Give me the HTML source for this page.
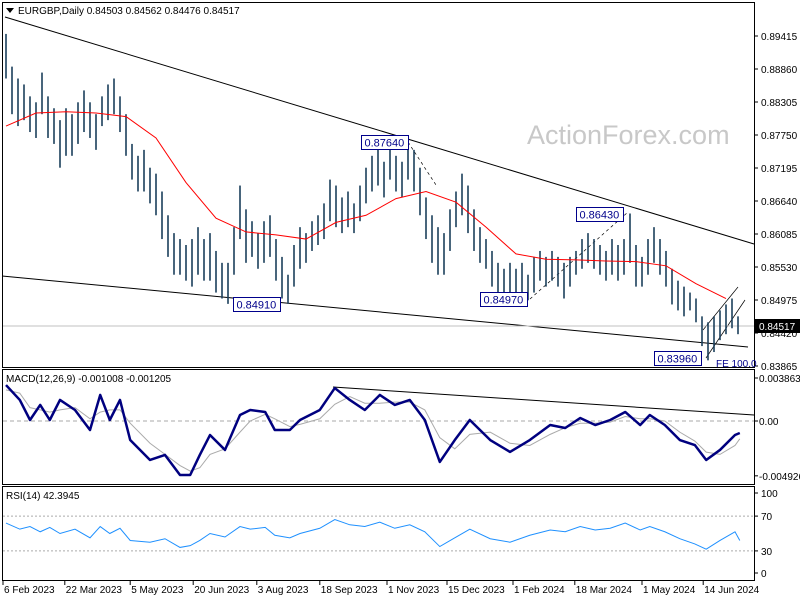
<!DOCTYPE html>
<html><head><meta charset="utf-8"><style>
body{margin:0;background:#fff;font-family:"Liberation Sans",sans-serif}
svg{display:block}
text{font-family:"Liberation Sans",sans-serif;font-size:10px}
</style></head><body>
<svg id="c" width="800" height="600">
<rect x="0" y="0" width="800" height="600" fill="#fff"/>
<text x="527" y="144" fill="#c8c8c8" style="font-size:27px">ActionForex.com</text>
<g id="main"></g>
</svg>
<script>
const highs=[.8945,.8890,.8870,.8860,.8840,.8830,.8880,.8840,.8820,.8800,.8820,.8810,.8830,.8850,.8830,.8810,.8840,.8860,.8870,.8840,.8810,.8760,.8740,.8750,.8720,.8710,.8680,.8640,.8610,.8600,.8590,.8600,.8620,.8600,.8610,.8580,.8560,.8560,.8620,.8690,.8650,.8630,.8610,.8630,.8640,.8600,.8570,.8540,.8590,.8620,.8610,.8630,.8640,.8660,.8700,.8690,.8670,.8680,.8660,.8690,.8720,.8740,.8750,.8730,.8760,.8740,.8730,.8764,.8750,.8720,.8670,.8640,.8620,.8610,.8650,.8680,.8710,.8690,.8650,.8620,.8600,.8580,.8560,.8550,.8560,.8550,.8560,.8540,.8570,.8580,.8570,.8580,.8570,.8560,.8570,.8580,.8600,.8610,.8600,.8590,.8580,.8600,.8590,.8600,.8643,.8590,.8570,.8600,.8620,.8600,.8580,.8550,.8530,.8520,.8510,.8500,.8470,.8460,.8470,.8480,.8490,.8500,.8470];
const lows=[.8870,.8810,.8790,.8800,.8780,.8770,.8810,.8770,.8760,.8720,.8740,.8740,.8760,.8780,.8770,.8750,.8790,.8800,.8810,.8780,.8740,.8700,.8680,.8680,.8660,.8640,.8600,.8570,.8540,.8540,.8530,.8520,.8540,.8530,.8530,.8510,.8500,.8491,.8540,.8600,.8560,.8570,.8550,.8560,.8570,.8530,.8500,.8491,.8520,.8550,.8560,.8580,.8590,.8600,.8630,.8620,.8610,.8620,.8610,.8630,.8660,.8680,.8690,.8670,.8700,.8680,.8670,.8700,.8680,.8640,.8600,.8560,.8540,.8540,.8580,.8620,.8640,.8610,.8580,.8560,.8550,.8520,.8510,.8500,.8500,.8500,.8510,.8497,.8510,.8530,.8520,.8530,.8520,.8500,.8520,.8540,.8550,.8560,.8550,.8540,.8530,.8540,.8530,.8540,.8560,.8520,.8520,.8540,.8560,.8540,.8520,.8490,.8480,.8470,.8480,.8460,.8420,.8396,.8410,.8430,.8440,.8450,.8440];
const maDay=[0,5,10,15,20,25,30,35,40,45,50,55,60,65,70,75,80,85,90,95,100,105,110,115,120];
const maVals=[.8790,.8812,.8814,.8812,.8806,.8770,.8695,.8635,.8612,.8607,.8600,.8628,.8640,.8668,.8680,.8662,.8620,.8575,.8566,.8565,.8563,.8562,.8555,.8525,.8500];
const macdDay=[0,2.3,4,5.7,7.3,9,11.5,14,15.7,17.3,19,20.7,24,26.5,29,30.7,32.3,34,36.5,39,40.7,43.2,44.8,47.3,49,52.3,54.8,57.3,59.8,62.3,64.8,67.3,69.8,72.3,74.8,77.3,80.7,84,87.3,90.7,93.2,95.7,98.2,100.7,103.2,105.7,107.3,109.8,112.3,114.8,116.7,119,121.5,122.3];
const macdVals=[.00323,.00189,.00009,.00144,.00009,.00189,.00099,-.00081,.00234,.00009,.00189,-.00171,-.00350,-.00305,-.00485,-.00485,-.00305,-.00126,-.00260,.00054,.00099,.00081,-.00081,-.00081,.00009,.00099,.00296,.00189,.00099,.00234,.00144,.00189,.00009,-.00368,-.00171,.00009,-.00171,-.00278,-.00171,-.00036,-.00063,.00027,-.00036,.00009,.00081,-.00036,.00054,-.00036,-.00171,-.00216,-.00350,-.00260,-.00126,-.00108];
const signalVals=[.0028,.0025,.0012,.0010,.0008,.0010,.0012,.0002,.0008,.0010,.0010,-.0002,-.0020,-.0030,-.0040,-.0045,-.0042,-.0030,-.0025,-.0010,.0000,.0006,.0002,-.0005,-.0003,.0002,.0015,.0022,.0016,.0016,.0017,.0017,.0010,-.0015,-.0025,-.0012,-.0010,-.0020,-.0022,-.0012,-.0006,-.0002,-.0002,-.0001,.0004,.0002,.0002,.0000,-.0010,-.0018,-.0028,-.0030,-.0022,-.0016];
const rsiVals=[62,55,58,52,57,50,55,45,58,50,56,42,40,44,34,36,42,50,46,58,55,57,48,45,50,56,66,60,58,63,56,60,52,35,45,55,44,40,48,54,52,58,54,56,62,54,58,52,44,38,32,42,52,42];
const priceTicks=[0.89415,0.88860,0.88305,0.87750,0.87195,0.86640,0.86085,0.85530,0.84975,0.84420,0.83865];
const dateLabels=["6 Feb 2023","22 Mar 2023","5 May 2023","20 Jun 2023","3 Aug 2023","18 Sep 2023","1 Nov 2023","15 Dec 2023","1 Feb 2024","18 Mar 2024","1 May 2024","14 Jun 2024"];
const dateDays=[-0.5,9.8,20.7,31.2,41.8,52.3,63.5,73.5,84.5,94.8,106,116.2];

const NS="http://www.w3.org/2000/svg";
const g=document.getElementById('main');
function mk(t,a,p){const e=document.createElementNS(NS,t);for(const k in a)e.setAttribute(k,a[k]);(p||g).appendChild(e);return e;}
const X=d=>6+d*6;
const Y=p=>36+(0.89415-p)/0.00555*33;
const YM=v=>421-v*11131;
const YR=v=>577-v*0.87;

let e;
e=mk('rect',{x:2.5,y:2.5,width:752,height:365,fill:'none',stroke:'#000'});

e=mk('rect',{x:2.5,y:369.5,width:752,height:115,fill:'none',stroke:'#000'});

e=mk('rect',{x:2.5,y:486.5,width:752,height:94,fill:'none',stroke:'#000'});


priceTicks.forEach(p=>{const y=Y(p);
 mk('line',{x1:754,x2:758,y1:y,y2:y,stroke:'#000'});
 e=mk('text',{x:761,y:y+4,fill:'#000'});e.textContent=p.toFixed(5);
 });

e=mk('line',{x1:5,y1:17,x2:754,y2:244,stroke:'#000','stroke-width':1});

e=mk('line',{x1:2,y1:276,x2:748,y2:347,stroke:'#000','stroke-width':1});

mk('line',{x1:706,y1:358,x2:745,y2:300,stroke:'#000','stroke-width':0.7});
mk('line',{x1:703,y1:330,x2:738,y2:287,stroke:'#000','stroke-width':0.7});
mk('line',{x1:408,y1:142,x2:436,y2:185,stroke:'#000','stroke-width':0.7,'stroke-dasharray':'3,3'});
mk('line',{x1:530,y1:299,x2:628,y2:212,stroke:'#000','stroke-width':0.7,'stroke-dasharray':'3,3'});
e=mk('line',{x1:3,y1:326,x2:754,y2:326,stroke:'#c0c0c0'});


highs.forEach((h,i)=>{const b=mk('line',{x1:X(i),x2:X(i),y1:Y(h),y2:Y(lows[i]),stroke:'#1b3f5c','stroke-width':1.6});
 });
e=mk('polyline',{points:maDay.map((d,i)=>X(d)+','+Y(maVals[i])).join(' '),fill:'none',stroke:'#f00','stroke-width':1});


function lbl(x,y,t,name){mk('rect',{x:x,y:y,width:47,height:14,fill:'#fff',stroke:'#00008b'});
 const tt=mk('text',{x:x+3,y:y+11,fill:'#00008b',style:'font-size:11px'});tt.textContent=t;
 }
lbl(361.5,135.5,'0.87640','high-label-87640');
lbl(233.5,297.5,'0.84910','low-label-84910');
lbl(480.5,292.5,'0.84970','low-label-84970');
lbl(576.5,207.5,'0.86430','high-label-86430');
lbl(654.5,351.5,'0.83960','low-label-83960');
e=mk('text',{x:716,y:367,fill:'#00008b'});e.textContent='FE 100.0';

mk('rect',{x:755,y:319,width:45,height:14,fill:'#000'});
e=mk('text',{x:759,y:330,fill:'#fff'});e.textContent='0.84517';


mk('path',{d:'M6 8 L14 8 L10 13 Z',fill:'#000'});
e=mk('text',{x:18,y:14,fill:'#000'});e.textContent='EURGBP,Daily  0.84503 0.84562 0.84476 0.84517';


mk('line',{x1:3,x2:754,y1:421,y2:421,stroke:'#aaa','stroke-dasharray':'4,3'});
e=mk('line',{x1:333,y1:387,x2:754,y2:415,stroke:'#000'});

e=mk('polyline',{points:macdDay.map((d,i)=>X(d)+','+YM(signalVals[i])).join(' '),fill:'none',stroke:'#aaa','stroke-width':1});

e=mk('polyline',{points:macdDay.map((d,i)=>X(d)+','+YM(macdVals[i])).join(' '),fill:'none',stroke:'#00007f','stroke-width':2.5,'stroke-linejoin':'round'});

e=mk('text',{x:6,y:382,fill:'#000'});e.textContent='MACD(12,26,9) -0.001008 -0.001205';

[[0.003863,'0.003863'],[0,'0.00'],[-0.004926,'-0.004926']].forEach(([v,t])=>{const y=YM(v);
 mk('line',{x1:754,x2:758,y1:y,y2:y,stroke:'#000'});
 const tt=mk('text',{x:759,y:y+4,fill:'#000'});tt.textContent=t;
 });

[70,30].forEach(v=>mk('line',{x1:3,x2:754,y1:YR(v),y2:YR(v),stroke:'#aaa','stroke-dasharray':'2,2'}));
e=mk('polyline',{points:macdDay.map((d,i)=>X(d)+','+YR(rsiVals[i])).join(' '),fill:'none',stroke:'#1e90ff','stroke-width':1});

e=mk('text',{x:6,y:499,fill:'#000'});e.textContent='RSI(14) 42.3945';

[100,70,30,0].forEach(v=>{const y=YR(v)+(v==100?3:v==0?-4:0);
 mk('line',{x1:754,x2:758,y1:y,y2:y,stroke:'#000'});
 const tt=mk('text',{x:761,y:y+4,fill:'#000'});tt.textContent=String(v);
 });

dateLabels.forEach((t,i)=>{const x=X(dateDays[i]);
 mk('line',{x1:x,x2:x,y1:581,y2:585,stroke:'#000'});
 const tt=mk('text',{x:x+1,y:593,fill:'#000'});tt.textContent=t;
 });
</script>
</body></html>
